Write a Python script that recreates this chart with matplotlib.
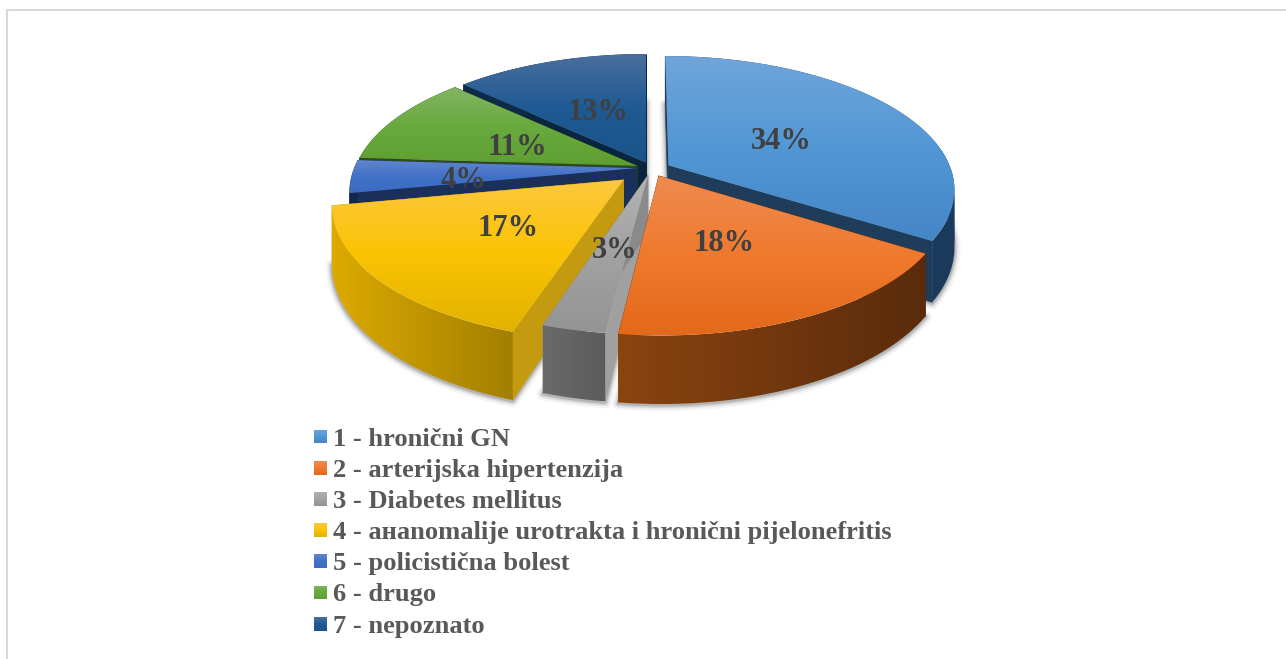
#!/usr/bin/env python3
"""3D exploded pie with a legend under it, drawn with polygons in pixel coords."""
import numpy as np
import matplotlib
matplotlib.use("Agg")
import matplotlib.pyplot as plt
from matplotlib.colors import to_rgb
from matplotlib.patches import Polygon, Rectangle

labels = ["1 - hronični GN", "2 - arterijska hipertenzija", "3 - Diabetes mellitus",
          "4 - анаnomalije urotrakta i hronični pijelonefritis",
          "5 - policistična bolest", "6 - drugo", "7 - nepoznato"]
values = [34, 18, 3, 17, 4, 11, 13]

# how far each slice is pulled out, in units of the pie radius
shift_u = [0.08, 0.045, 0.007, -0.078, -0.035, -0.032, 0.0]
shift_v = [0.021, -0.06, -0.055, -0.09, -0.001, 0.017, 0.043]
label_r = [0.48, 0.49, 0.50, 0.50, 0.61, 0.48, 0.46]
label_dy = [5, 4, 5, 2, 7, 5, 0]
draw_order = [6, 5, 4, 0, 3, 2, 1]

# gradient of the top face: top, middle, bottom
top_colors = [("#6fa5da", "#5297d5", "#4586c6"), ("#f08a50", "#ef7a2e", "#e4691a"),
              ("#b2b2b2", "#a2a2a2", "#949494"), ("#fdc83e", "#fbc303", "#e2b200"),
              ("#6486cd", "#4272c8", "#3c6cc0"), ("#82b562", "#68aa3e", "#5f9f32"),
              ("#4a6f9c", "#1f5a94", "#1a5488")]
wall_a = ["#1b3a5c", "#5a2b0b", "#5c5c5c", "#a37f00", "#14264e", "#2c4d1a", "#0d2a47"]
wall_b = ["#1b3a5c", "#8a4410", "#6a6a6a", "#dcaa00", "#14264e", "#2c4d1a", "#0d2a47"]
cut_a = ["#1f3d5a", "#5a2b0b", "#a0a0a0", "#c49a10", "#1a2f5a", "#2c4d1a", "#0a2540"]
cut_b = ["#1f3d5a", "#8a4410", "#8a8a8a", "#c49a10", "#1a2f5a", "#2c4d1a", "#0a2540"]

CX, CY = 646.0, 168.0
RX, RY = 282.0, 129.0
PERSP = 0.173
DEPTH = 56.0


def project(u, v, down=0.0):
    w = 1.0 / (1.0 + PERSP * v)
    return CX + RX * u * w, CY - RY * v * w + down * w


def vgrad(ax, stops, x0, x1, y0, y1, clip, z):
    rgb = np.array([to_rgb(c) for c in stops])
    t = np.linspace(0, 1, 64)
    img = np.stack([np.interp(t, np.linspace(0, 1, len(stops)), rgb[:, i]) for i in range(3)], axis=1)
    im = ax.imshow(img[:, None, :], extent=(x0, x1, y1, y0), aspect="auto",
                   interpolation="bilinear", zorder=z)
    im.set_clip_path(clip)


def hgrad(ax, col_a, col_b, xa, xb, x0, x1, y0, y1, clip, z):
    # col_a sits at x=xa and col_b at x=xb, flat beyond them
    xs = np.linspace(x0, x1, 128)
    t = np.clip((xs - xa) / (xb - xa), 0, 1)[:, None]
    img = np.array(to_rgb(col_a)) * (1 - t) + np.array(to_rgb(col_b)) * t
    im = ax.imshow(img[None, :, :], extent=(x0, x1, y1, y0), aspect="auto",
                   interpolation="bilinear", zorder=z)
    im.set_clip_path(clip)


fig = plt.figure(figsize=(12.86, 6.59), dpi=100)
ax = fig.add_axes([0, 0, 1, 1])

bounds = np.cumsum([0] + values) / sum(values) * 2 * np.pi
slices = []
for i in range(len(values)):
    a0, a1 = bounds[i], bounds[i + 1]
    slices.append((a0, a1, (a0 + a1) / 2, shift_u[i], shift_v[i], np.linspace(a0, a1, 90)))

# soft shadow of every bottom face, under everything else
for a0, a1, mid, ou, ov, th in slices:
    u = np.r_[ou, ou + np.sin(th), ou]
    v = np.r_[ov, ov + np.cos(th), ov]
    x, y = project(u, v, DEPTH)
    for lw, al in ((9, 0.04), (6, 0.06), (4, 0.09), (2, 0.14)):
        ax.plot(x, y + 1, color="black", lw=lw, alpha=al, solid_joinstyle="round", zorder=1)

z = 2
for i in draw_order:
    a0, a1, mid, ou, ov, th = slices[i]
    # cut walls
    for ang, col in ((a0, cut_a[i]), (a1, cut_b[i])):
        eu, ev = ou + np.sin(ang), ov + np.cos(ang)
        xa, ya = project(ou, ov)
        xe, ye = project(eu, ev)
        xa2, ya2 = project(ou, ov, DEPTH)
        xe2, ye2 = project(eu, ev, DEPTH)
        ax.add_patch(Polygon([(xa, ya), (xe, ye), (xe2, ye2), (xa2, ya2)],
                             fc=col, ec=col, lw=0.4, zorder=z))
    z += 1
    # outer wall, shaded left to right; split where the rim turns back in x,
    # otherwise the clip polygon crosses itself and leaves a hole
    xt, yt = project(ou + np.sin(th), ov + np.cos(th))
    xb, yb = project(ou + np.sin(th), ov + np.cos(th), DEPTH)
    turns = np.where(np.diff(np.sign(np.diff(xt))) != 0)[0] + 1
    cuts = [0] + list(turns) + [len(xt) - 1]
    for s0, s1 in zip(cuts[:-1], cuts[1:]):
        wx = np.r_[xt[s0:s1 + 1], xb[s0:s1 + 1][::-1]]
        wy = np.r_[yt[s0:s1 + 1], yb[s0:s1 + 1][::-1]]
        wall = Polygon(np.c_[wx, wy], fc="none", ec="none", zorder=z)
        ax.add_patch(wall)
        hgrad(ax, wall_a[i], wall_b[i], xt[0], xt[-1], wx.min(), wx.max(), wy.min(), wy.max(), wall, z)
    z += 1
    # top face with a vertical gradient
    x, y = project(np.r_[ou, ou + np.sin(th)], np.r_[ov, ov + np.cos(th)])
    face = Polygon(np.c_[x, y], fc="none", ec="none", zorder=z)
    ax.add_patch(face)
    vgrad(ax, top_colors[i], x.min(), x.max(), y.min(), y.max(), face, z)
    z += 1

for i in range(len(values)):
    a0, a1, mid, ou, ov, th = slices[i]
    x, y = project(ou + label_r[i] * np.sin(mid), ov + label_r[i] * np.cos(mid))
    ax.text(x, y + label_dy[i], f"{values[i]}%", ha="center", va="center", color="#404040",
            fontsize=22, fontweight="bold", family="Liberation Serif", zorder=z)

for i, txt in enumerate(labels):
    yc = 436.5 + i * 31.2
    swatch = Rectangle((314, yc - 7), 13, 14, fc="none", ec="none", zorder=z)
    ax.add_patch(swatch)
    vgrad(ax, top_colors[i], 314, 327, yc - 7, yc + 7, swatch, z)
    ax.text(333, yc, txt, ha="left", va="center_baseline", color="#595959",
            fontsize=19.05, fontweight="bold", family="Liberation Serif", zorder=z)

# thin frame of the chart area, cut by the image edges
ax.plot([6.5, 6.5, 1286], [659, 9.5, 9.5], color="#d9d9d9", lw=1.5, zorder=z)

ax.set_xlim(0, 1286)
ax.set_ylim(659, 0)
ax.axis("off")
fig.savefig("out.png", dpi=100)
